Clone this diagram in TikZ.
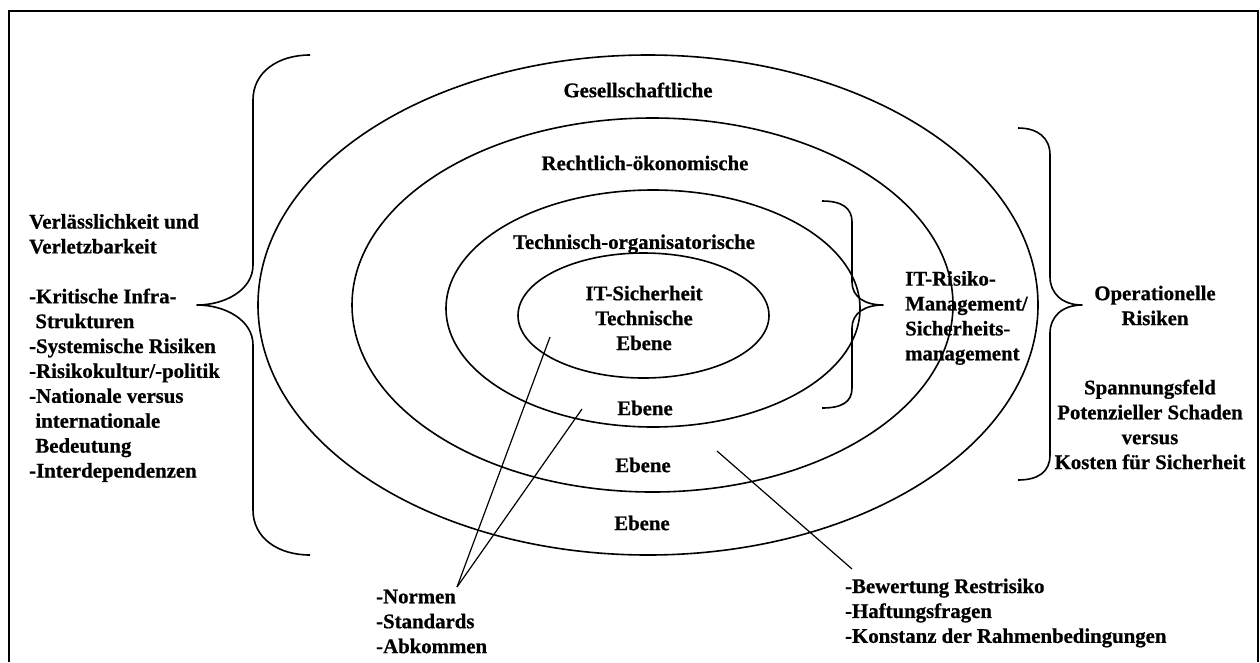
\documentclass[tikz,border=0pt]{standalone}
\usepackage{fontspec}
\setmainfont{Liberation Serif}[BoldFeatures={FakeBold=0.7}]
\begin{document}
\begin{tikzpicture}[x=1pt,y=-1pt,
  lbl/.style={font=\fontsize{20.8pt}{24.9pt}\selectfont\bfseries, inner sep=0pt},
  ring/.style={line width=1.6pt},
  brace/.style={line width=1.6pt, line join=round},
  leader/.style={line width=1.2pt},
  frame/.style={line width=2pt}]
\useasboundingbox (0,0) rectangle (1260,662);

% outer frame (open at the bottom)
\draw[frame] (9,662) -- (9,11) -- (1258,11) -- (1258,662);

% concentric levels
\coordinate (cG) at (648,305);
\coordinate (cR) at (652.5,305);
\coordinate (cT) at (653,308.5);
\coordinate (cI) at (643.5,315.5);
\draw[ring] (cG) ellipse [x radius=390pt, y radius=250pt];
\draw[ring] (cR) ellipse [x radius=300.5pt, y radius=187pt];
\draw[ring] (cT) ellipse [x radius=207pt, y radius=118.5pt];
\draw[ring] (cI) ellipse [x radius=125.5pt, y radius=62.5pt];

% level labels
\node[lbl] (gesell) at (638,90) {Gesellschaftliche};
\node[lbl] (recht) at (645,163) {Rechtlich-ökonomische};
\node[lbl] (techorg) at (634,244) {Technisch-organisatorische};
\node[lbl, align=center] (itsec) at (644,318) {IT-Sicherheit\\Technische\\Ebene};
\node[lbl] (ebT) at (645,408) {Ebene};
\node[lbl] (ebR) at (643,465) {Ebene};
\node[lbl] (ebG) at (642,523) {Ebene};

% braces
\draw[brace] (310,55) .. controls (278,55) and (253,72) .. (253,100)
  -- (253,265) .. controls (253,290) and (225,305) .. (197,305)
  .. controls (225,305) and (253,320) .. (253,345)
  -- (253,510) .. controls (253,538) and (278,555) .. (310,555);
\draw[brace] (1018,128) .. controls (1038,128) and (1050,138) .. (1050,155)
  -- (1050,277) .. controls (1050,293) and (1062,305) .. (1082,305)
  .. controls (1062,305) and (1050,317) .. (1050,333)
  -- (1050,455) .. controls (1050,472) and (1038,480) .. (1018,480);
\draw[brace] (822,201) .. controls (842,201) and (852,208) .. (852,222)
  -- (852,282) .. controls (852,297) and (865,305) .. (883,305)
  .. controls (865,305) and (852,313) .. (852,328)
  -- (852,388) .. controls (852,402) and (842,408) .. (822,408);

% side texts
\node[lbl, align=left, anchor=west] (verl) at (29,348)
  {Verlässlichkeit und\\Verletzbarkeit\\[24.9pt]
   -Kritische Infra-\\\hspace*{0.3em}Strukturen\\-Systemische Risiken\\
   -Risikokultur/-politik\\-Nationale versus\\\hspace*{0.3em}internationale\\
   \hspace*{0.3em}Bedeutung\\-Interdependenzen};
\node[lbl, align=left, anchor=west] (itrisk) at (905,318)
  {IT-Risiko-\\Management/\\Sicherheits-\\management};
\node[lbl, align=center] (oprisk) at (1155,305.5) {Operationelle\\Risiken};
\node[lbl, align=center] (spann) at (1150,424.5)
  {Spannungsfeld\\Potenzieller Schaden\\versus\\Kosten für Sicherheit};

% bottom texts
\node[lbl, align=left, anchor=west] (normen) at (376,621.5)
  {-Normen\\-Standards\\-Abkommen};
\node[lbl, align=left, anchor=west] (bewert) at (845,613)
  {-Bewertung Restrisiko\\-Haftungsfragen\\-Konstanz der Rahmenbedingungen};

% leader lines
\coordinate (normtip) at (457,587);
\coordinate (inIT) at (550,337);
\coordinate (inTO) at (582,409);
\coordinate (inRO) at (717,451);
\coordinate (bewtip) at (852,569);
\draw[leader] (normtip) -- (inIT);
\draw[leader] (normtip) -- (inTO);
\draw[leader] (inRO) -- (bewtip);
\end{tikzpicture}
\end{document}
